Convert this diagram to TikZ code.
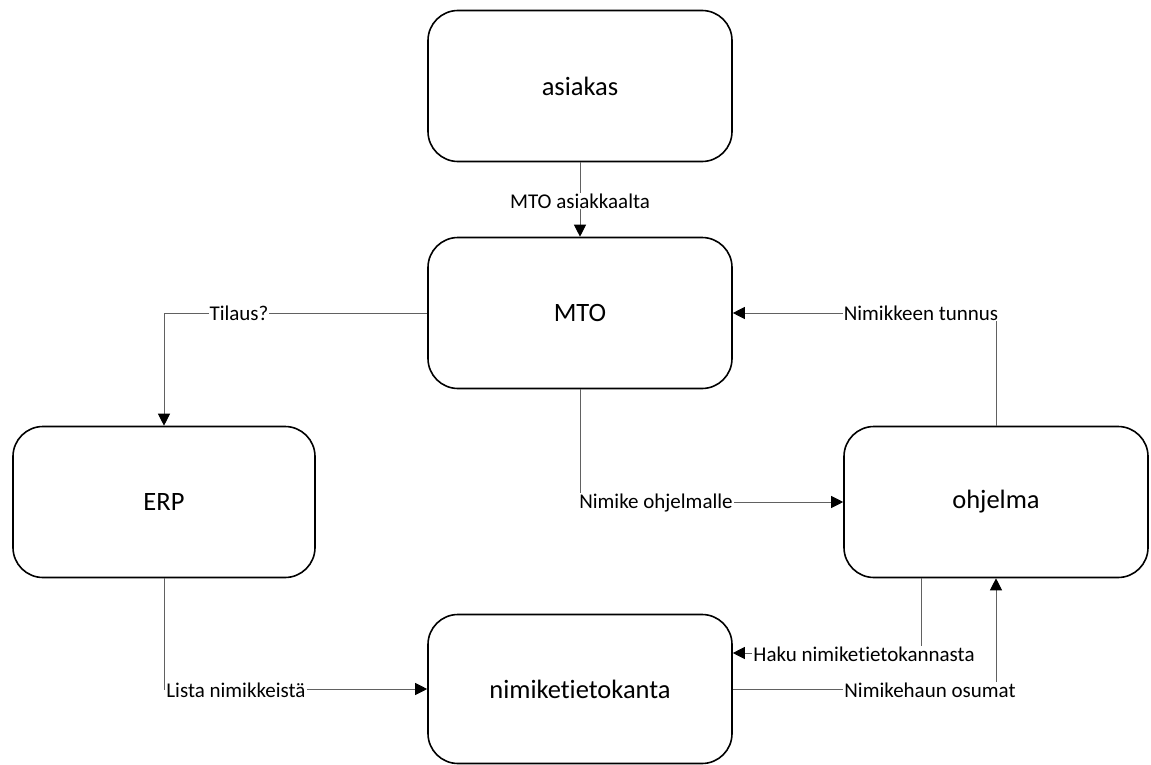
\documentclass[tikz,border=0pt]{standalone}
\usepackage{fontspec}
\setmainfont{Carlito}[Ligatures=NoCommon]
\usetikzlibrary{arrows.meta}
\begin{document}
\begin{tikzpicture}[x=1pt,y=-1pt,
  box/.style={draw=black, line width=1.6pt, rounded corners=30pt,
    minimum width=304pt, minimum height=151pt, inner sep=0pt,
    font=\fontsize{26.5}{30}\selectfont, fill=white},
  conn/.style={draw=black!62, line width=1pt,
    -{Triangle[length=12pt,width=12pt,color=black]}},
  lbl/.style={fill=white, inner sep=1pt, font=\fontsize{21}{24}\selectfont}]
  \path[use as bounding box, fill=white] (0,0) rectangle (1151,765);

  % process boxes
  \node[box] (asiakas) at (580,86) {asiakas};
  \node[box] (mto) at (580,313) {MTO};
  \node[box, minimum width=302pt] (erp) at (164,502) {ERP};
  \node[box] (ohj) at (996,502) {ohjelma};
  \node[box, minimum height=149pt] (nimi) at (580,689) {nimiketietokanta};

  % flows between the boxes
  \draw[conn] (asiakas.south) -- (mto.north);
  \draw[conn] (mto.west) -| (erp.north);
  \draw[conn] (mto.south) |- (ohj.west);
  \draw[conn] (ohj.north) |- (mto.east);
  \draw[conn] ([xshift=-75pt]ohj.south) |- ([yshift=36pt]nimi.east);
  \draw[conn] (nimi.east) -| (ohj.south);
  \draw[conn] (erp.south) |- (nimi.west);

  % flow labels
  \node[lbl] (l1) at (580,201) {MTO asiakkaalta};
  \node[lbl] (l2) at (239,313) {Tilaus?};
  \node[lbl] (l3) at (656,503) {Nimike ohjelmalle};
  \node[lbl] (l4) at (921,313) {Nimikkeen tunnus};
  \node[lbl] (l5) at (864,654) {Haku nimiketietokannasta};
  \node[lbl] (l6) at (930,690) {Nimikehaun osumat};
  \node[lbl] (l7) at (236,690) {Lista nimikkeistä};
\end{tikzpicture}
\end{document}
